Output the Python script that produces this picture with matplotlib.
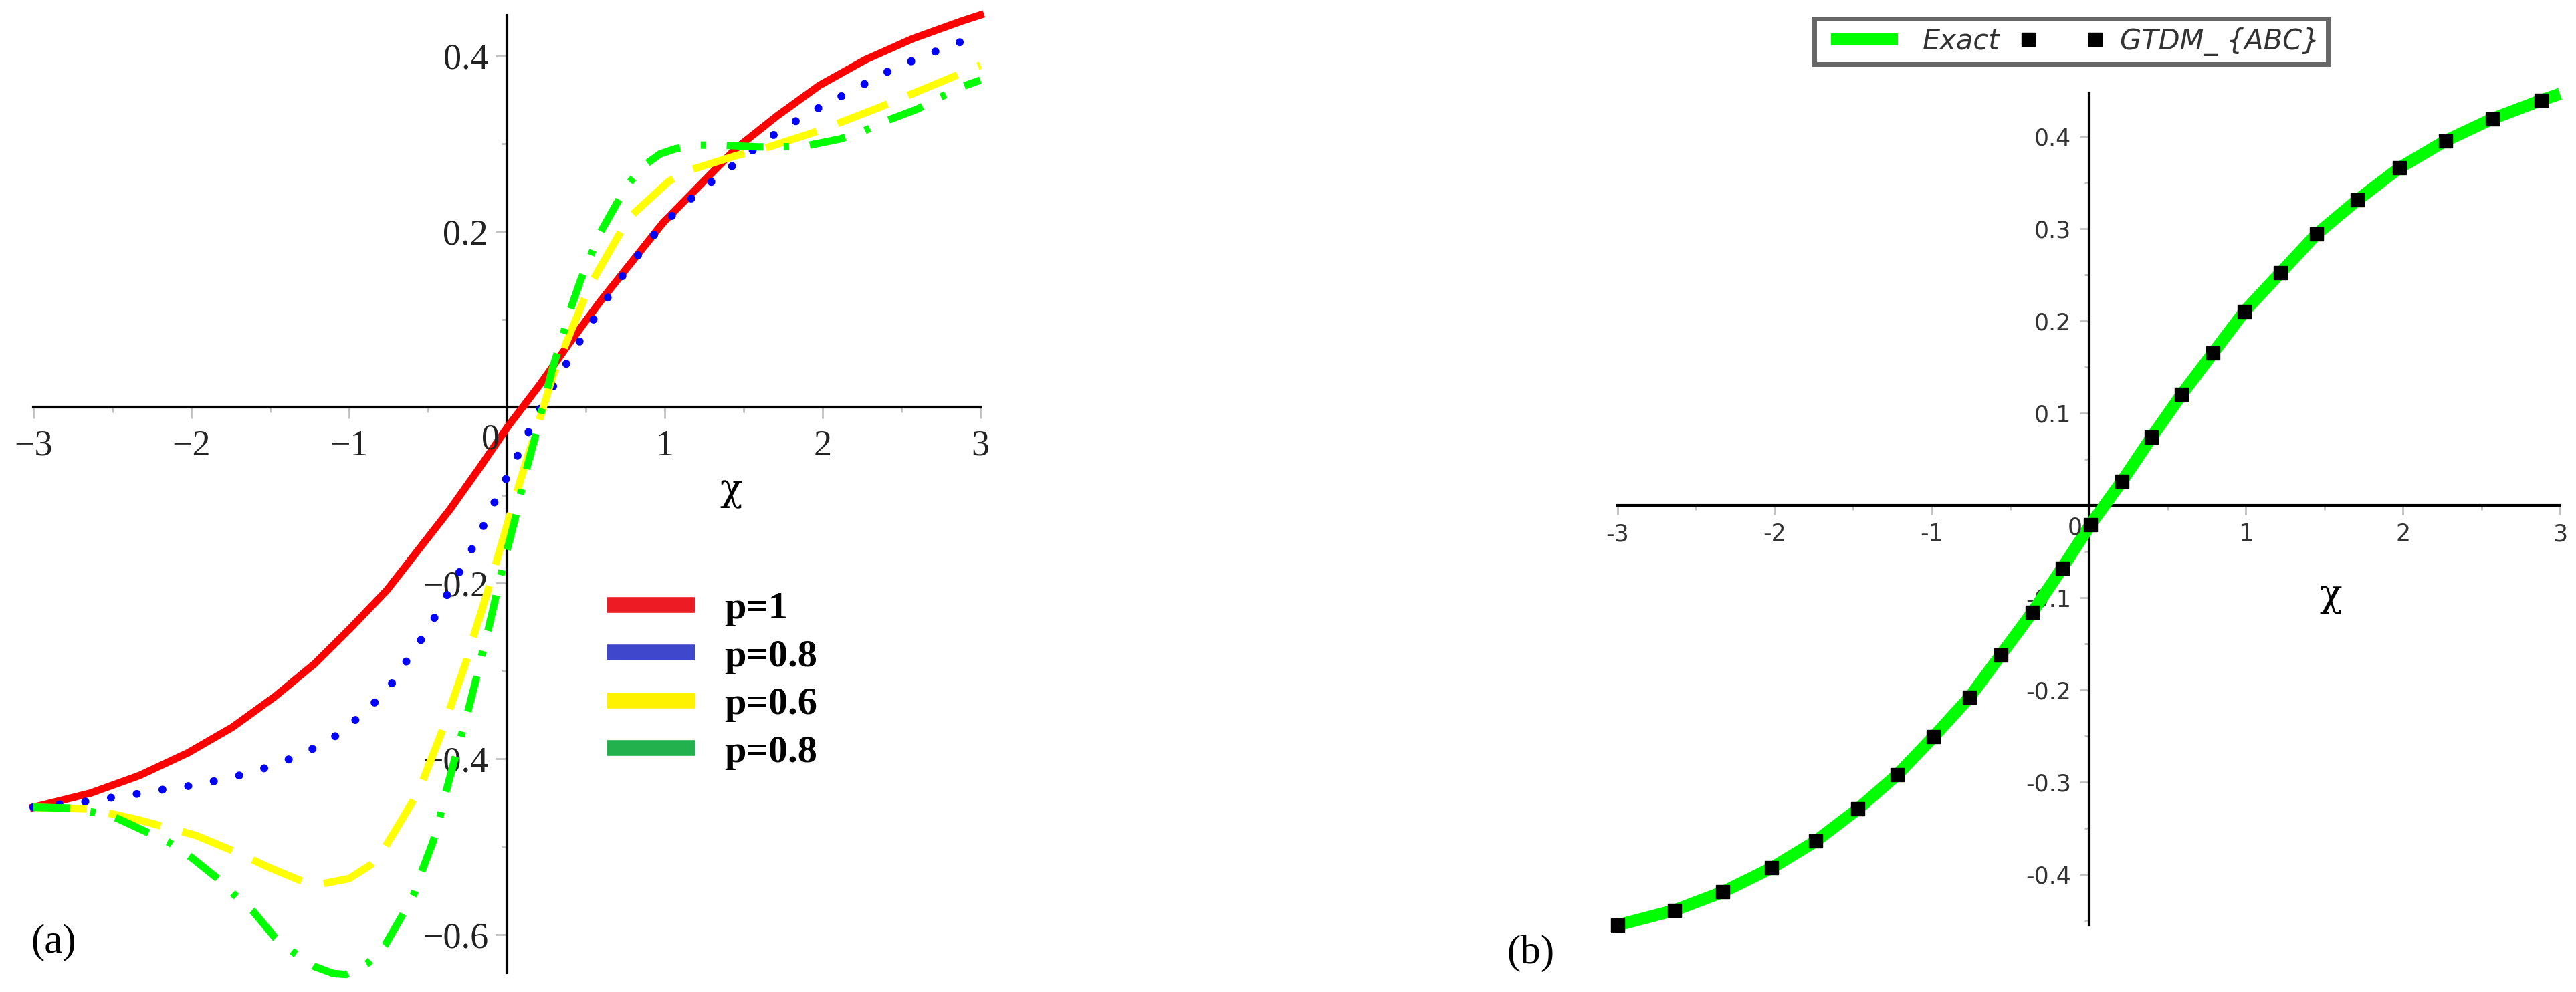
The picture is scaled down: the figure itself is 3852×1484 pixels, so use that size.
import matplotlib.pyplot as plt
from matplotlib.lines import Line2D

# ---------------- data ----------------
# exact solution (also the p=1 curve of panel a) / GTDM_ABC points of panel b
x_exact = [-3.0, -2.64, -2.33, -2.02, -1.74, -1.47, -1.22, -0.99, -0.76, -0.56,
           -0.36, -0.17, 0.01, 0.21, 0.40, 0.59, 0.79, 0.99, 1.22, 1.45,
           1.71, 1.98, 2.27, 2.57, 2.88, 3.0]
u_exact = [-0.455, -0.439, -0.419, -0.393, -0.364, -0.329, -0.292, -0.251, -0.208, -0.162,
           -0.116, -0.068, -0.021, 0.026, 0.074, 0.120, 0.165, 0.210, 0.252, 0.294,
           0.331, 0.366, 0.395, 0.419, 0.439, 0.446]
x_gtdm = x_exact[:-1]
u_gtdm = u_exact[:-1]

x_p1 = x_exact
u_p1 = u_exact

x_p08 = [-3.0, -2.64, -2.47, -2.31, -2.15, -1.98, -1.82, -1.65, -1.49, -1.33,
         -1.19, -1.04, -0.92, -0.79, -0.69, -0.61, -0.51, -0.43, -0.35, -0.27,
         -0.19, -0.12, -0.05, 0.03, 0.10, 0.17, 0.25, 0.34, 0.42, 0.51,
         0.60, 0.69, 0.79, 0.89, 1.00, 1.12, 1.25, 1.39, 1.52, 1.65,
         1.80, 1.94, 2.08, 2.23, 2.38, 2.53, 2.68, 2.84, 3.0]
u_p08 = [-0.455, -0.448, -0.443, -0.439, -0.434, -0.430, -0.424, -0.417, -0.408, -0.397,
         -0.385, -0.369, -0.349, -0.328, -0.305, -0.281, -0.256, -0.230, -0.204, -0.177,
         -0.151, -0.124, -0.097, -0.069, -0.043, -0.015, 0.011, 0.038, 0.063, 0.089,
         0.114, 0.139, 0.163, 0.187, 0.210, 0.230, 0.250, 0.269, 0.287, 0.305,
         0.322, 0.337, 0.350, 0.364, 0.379, 0.391, 0.402, 0.413, 0.424]

x_p06 = [-3.0, -2.64, -2.34, -1.97, -1.73, -1.50, -1.30, -1.17, -1.00, -0.86,
         -0.775, -0.69, -0.60, -0.54, -0.415, -0.37, -0.26, -0.22, -0.12, 0.01,
         0.11, 0.20, 0.29, 0.35, 0.48, 0.53, 0.70, 0.77, 1.02, 1.13,
         1.45, 1.59, 1.92, 2.03, 2.36, 2.48, 2.79, 3.0]
u_p06 = [-0.455, -0.457, -0.469, -0.487, -0.505, -0.524, -0.539, -0.542, -0.536, -0.520,
         -0.501, -0.476, -0.449, -0.428, -0.370, -0.347, -0.290, -0.265, -0.208, -0.128,
         -0.068, -0.018, 0.035, 0.062, 0.119, 0.140, 0.193, 0.215, 0.256, 0.268,
         0.286, 0.292, 0.311, 0.318, 0.341, 0.350, 0.373, 0.389]

x_p08b = [-3.0, -2.75, -2.50, -2.14, -2.00, -1.84, -1.73, -1.61, -1.47, -1.36,
          -1.22, -1.10, -1.02, -0.88, -0.77, -0.66, -0.59, -0.54, -0.47, -0.43,
          -0.39, -0.33, -0.29, -0.25, -0.195, -0.165, -0.12, -0.076, -0.04, 0.0,
          0.05, 0.11, 0.18, 0.21, 0.25, 0.29, 0.36, 0.39, 0.47, 0.53,
          0.58, 0.69, 0.77, 0.87, 0.97, 1.07, 1.21, 1.36, 1.59, 1.74,
          1.89, 2.11, 2.25, 2.38, 2.60, 2.73, 2.86, 3.0]
u_p08b = [-0.455, -0.456, -0.465, -0.495, -0.512, -0.535, -0.554, -0.573, -0.603, -0.619,
          -0.636, -0.644, -0.645, -0.632, -0.611, -0.577, -0.554, -0.528, -0.495, -0.470,
          -0.440, -0.400, -0.374, -0.348, -0.309, -0.286, -0.254, -0.220, -0.192, -0.163,
          -0.128, -0.080, -0.033, -0.010, 0.017, 0.045, 0.085, 0.105, 0.146, 0.172,
          0.195, 0.230, 0.254, 0.275, 0.288, 0.294, 0.298, 0.298, 0.296, 0.296,
          0.297, 0.305, 0.313, 0.324, 0.339, 0.351, 0.363, 0.372]

legend_a = ['p=1', 'p=0.8', 'p=0.6', 'p=0.8']
legend_a_colors = ['#ed1c24', '#3f48cc', '#fff200', '#22b14c']

xt_a = [-3, -2, -1, 1, 2, 3]
xt_a_lab = ['\u22123', '\u22122', '\u22121', '1', '2', '3']
yt_a = [-0.6, -0.4, -0.2, 0.2, 0.4]
yt_a_lab = ['\u22120.6', '\u22120.4', '\u22120.2', '0.2', '0.4']

xt_b = [-3, -2, -1, 1, 2, 3]
xt_b_lab = ['-3', '-2', '-1', '1', '2', '3']
yt_b = [-0.4, -0.3, -0.2, -0.1, 0.1, 0.2, 0.3, 0.4]
yt_b_lab = ['-0.4', '-0.3', '-0.2', '-0.1', '0.1', '0.2', '0.3', '0.4']

W, H = 3852, 1484
SERIF = 'Liberation Serif'
SANS = 'DejaVu Sans'

fig = plt.figure(figsize=(W / 100, H / 100), dpi=100)
fig.patch.set_facecolor('white')


def center_axes(ax):
    ax.spines['left'].set_position(('data', 0))
    ax.spines['bottom'].set_position(('data', 0))
    ax.spines['top'].set_visible(False)
    ax.spines['right'].set_visible(False)
    for s in ('left', 'bottom'):
        ax.spines[s].set_linewidth(3)
        ax.spines[s].set_color('black')
    ax.patch.set_visible(False)


# ---------------- panel (a) ----------------
axa = fig.add_axes([50 / W, 1 - 1455 / H, 1416 / W, 1432 / H])
axa.set_xlim(-3, 3)
axa.set_ylim(-0.643, 0.4456)
center_axes(axa)

lw = 8
axa.plot(x_p1, u_p1, color='#ff0000', lw=lw, zorder=3, clip_on=False,
         solid_joinstyle='round')
axa.plot(x_p08, u_p08, color='#0000ff', lw=8.6, linestyle=(0, (0.01, 3.25)),
         dash_capstyle='round', zorder=3, clip_on=False)
axa.plot(x_p06, u_p06, color='#ffff00', lw=lw, linestyle=(0, (7.2, 3.0)),
         zorder=3, clip_on=False)
axa.plot(x_p08b, u_p08b, color='#00ff00', lw=lw, linestyle=(0, (4.9, 2.8, 0.7, 2.8)),
         zorder=3, clip_on=False)

axa.set_xticks(xt_a, xt_a_lab, fontsize=39, fontfamily=SERIF, color='#222222')
axa.set_yticks(yt_a, yt_a_lab, fontsize=39, fontfamily=SERIF, color='#222222')
axa.set_xticks([-2.5, -1.5, -0.5, 0.5, 1.5, 2.5], minor=True)
axa.set_yticks([-0.5, -0.3, -0.1, 0.1, 0.3], minor=True)
axa.tick_params(which='major', length=12, width=2, color='#c0c0c0')
axa.tick_params(which='minor', length=6, width=2, color='#c0c0c0')
axa.tick_params(axis='x', which='major', pad=12)
axa.tick_params(axis='y', which='major', pad=8)
axa.annotate('0', (0, 0), xytext=(-18, -35), textcoords='offset points',
             ha='center', va='center', fontsize=39, fontfamily=SERIF, color='#222222')
axa.text(1.42, -0.095, '\u03c7', fontsize=40, fontfamily='DejaVu Serif',
         ha='center', va='center')

handles = [Line2D([], [], color=c, lw=17, solid_capstyle='butt') for c in legend_a_colors]
axa.legend(handles, legend_a, loc='center left',
           bbox_to_anchor=(908 / W, 1 - 1018 / H), bbox_transform=fig.transFigure,
           frameon=False, borderpad=0, borderaxespad=0, handlelength=2.25,
           handletextpad=0.75, labelspacing=0.32,
           prop=dict(family=SERIF, weight='bold', size=42))

fig.text(80 / W, 1 - 1410 / H, '(a)', fontsize=44, fontfamily=SERIF,
         ha='center', va='center')

# ---------------- panel (b) ----------------
axb = fig.add_axes([2419 / W, 1 - 1384 / H, 1409 / W, 1245 / H])
axb.set_xlim(-3, 3)
axb.set_ylim(-0.455, 0.447)
center_axes(axb)

axb.plot(x_exact, u_exact, color='#00ff00', lw=13, zorder=3, clip_on=False,
         solid_capstyle='butt', solid_joinstyle='round', label='Exact')
axb.plot(x_gtdm, u_gtdm, linestyle='none', marker='s', markersize=14,
         color='black', zorder=4, clip_on=False, label='GTDM_ {ABC}')

axb.set_xticks(xt_b, xt_b_lab, fontsize=25, fontfamily=SANS, color='#333333')
axb.set_yticks(yt_b, yt_b_lab, fontsize=25, fontfamily=SANS, color='#333333')
axb.set_xticks([-2.5, -1.5, -0.5, 0.5, 1.5, 2.5], minor=True)
axb.set_yticks([-0.45, -0.35, -0.25, -0.15, -0.05, 0.05, 0.15, 0.25, 0.35], minor=True)
axb.tick_params(which='major', length=10, width=2, color='#c0c0c0', pad=9)
axb.tick_params(which='minor', length=5, width=2, color='#c0c0c0')
axb.annotate('0', (0, 0), xytext=(-15, -24), textcoords='offset points',
             ha='center', va='center', fontsize=25, fontfamily=SANS, color='#333333')
axb.text(1.54, -0.098, '\u03c7', fontsize=40, fontfamily='DejaVu Serif',
         ha='center', va='center')

leg = axb.legend(loc='upper center', bbox_to_anchor=(3097 / W, 1 - 28 / H),
                 bbox_transform=fig.transFigure, ncol=2, numpoints=2,
                 fancybox=False, borderpad=0.3, borderaxespad=0,
                 handlelength=3.0, handletextpad=0.6, columnspacing=0.7,
                 prop=dict(family=SANS, style='italic', size=30),
                 labelcolor='#333333')
leg.get_frame().set_edgecolor('#404040')
leg.get_frame().set_linewidth(5)

fig.text(2289 / W, 1 - 1426 / H, '(b)', fontsize=44, fontfamily=SERIF,
         ha='center', va='center')

fig.savefig('out.png', dpi=100, facecolor='white')
